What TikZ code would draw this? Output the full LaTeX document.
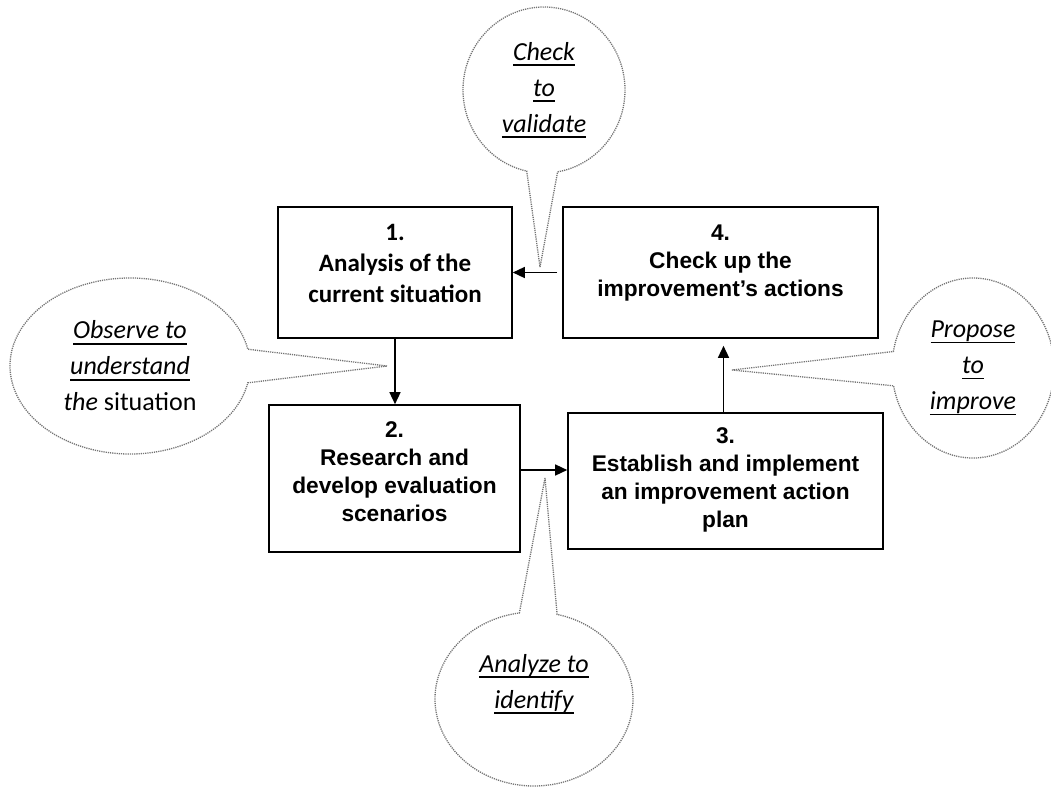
\documentclass[tikz,border=0pt]{standalone}
\usepackage{fontspec}
\setmainfont{Liberation Sans}
\newfontfamily\calibri{Carlito}
\usetikzlibrary{positioning,shapes.callouts,arrows.meta}

\newsavebox\ulbox
\newcommand\ulword[1]{\sbox\ulbox{#1}\rlap{\rule[-6pt]{\wd\ulbox}{1.8pt}}\usebox\ulbox}

\tikzset{
  stepbox/.style={draw, line width=1.6pt, inner sep=0pt},
  boxtext/.style={align=center, inner sep=0pt, font=\bfseries\fontsize{22.7}{28}\selectfont},
  flow/.style={line width=1.4pt, -{Triangle[length=12pt,width=11pt]}},
  bubble/.style={ellipse callout, draw=black!55, line width=1.3pt,
    dash pattern=on 1.2pt off 1pt, inner sep=2pt, align=center,
    callout pointer arc=22, font=\calibri\itshape\fontsize{26}{36}\selectfont},
}

\begin{document}
\begin{tikzpicture}[x=1pt, y=-1pt]
    \useasboundingbox (0,0) rectangle (1051,787);

    % the four steps
    \node[stepbox, minimum width=234pt, minimum height=131pt] (b1) at (395,272.5) {};
    \node[stepbox, minimum width=251pt, minimum height=147pt] (b2) at (394.5,478.5) {};
    \node[stepbox, minimum width=315pt, minimum height=136pt] (b3) at (725.5,481) {};
    \node[stepbox, minimum width=315pt, minimum height=131pt] (b4) at (720.5,272.5) {};

    \node[boxtext, font=\calibri\bfseries\fontsize{25}{31}\selectfont, below=18pt of b1.north] (t1)
        {1.\\Analysis of the\\current situation};
    \node[boxtext, below=17pt of b2.north] (t2) {2.\\Research and\\develop evaluation\\scenarios};
    \node[boxtext, below=15pt of b3.north] (t3) {3.\\Establish and implement\\an improvement action\\plan};
    \node[boxtext, below=18pt of b4.north] (t4) {4.\\Check up the\\improvement’s actions};

    \draw[flow] (b1.south) -- (b1.south |- b2.north);
    \draw[flow] ([yshift=8.5pt]b2.east) -- ([yshift=8.5pt]b2.east -| b3.west);
    \draw[flow, shorten >=7pt] ([xshift=-2pt]b3.north) -- ([xshift=-2pt]b3.north |- b4.south);
    \draw[flow, shorten <=5pt] (b4.west) -- (b1.east);

    % the bubbles
    \node[bubble, minimum width=162pt, minimum height=166pt, callout absolute pointer={(540,267)}] (c4)
        at (544,90) {\ulword{Check}\\\ulword{to}\\\ulword{validate}};
    \node[bubble, minimum width=240pt, minimum height=176pt, callout absolute pointer={(387,366)}] (c1)
        at (130,366) {\ulword{Observe to}\\\ulword{understand}\\the {\upshape situation}};
    \node[bubble, minimum width=162pt, minimum height=180pt, callout absolute pointer={(732,370)}] (c3)
        at (973,368) {\ulword{Propose}\\\ulword{to}\\\ulword{improve}};
    \node[bubble, minimum width=198pt, minimum height=174pt, callout absolute pointer={(545,478)}] (c2)
        at (534,699) {\ulword{Analyze to}\\\ulword{identify}\\\mbox{}};
\end{tikzpicture}
\end{document}
